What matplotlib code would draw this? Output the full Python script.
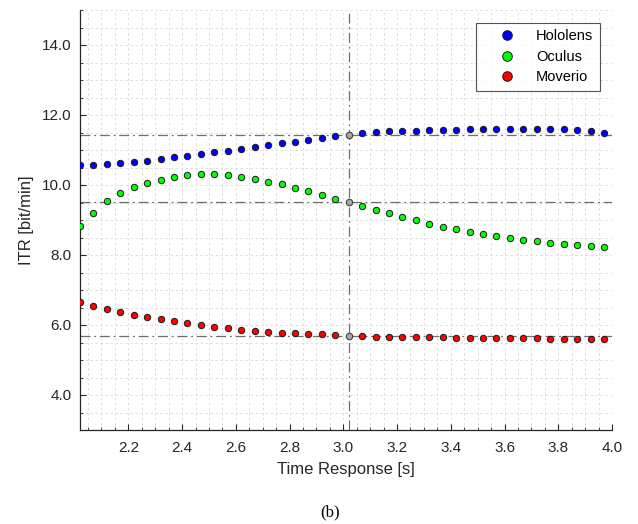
import numpy as np
import matplotlib.pyplot as plt
from matplotlib.ticker import MultipleLocator

plt.rcParams.update({
    "font.family": ["Liberation Sans", "DejaVu Sans"],
    "font.size": 11,
})

# ---- data ----
time_s = [2.02 + 0.05 * i for i in range(40)]

hololens = [10.57, 10.58, 10.60, 10.63, 10.66, 10.70, 10.74, 10.79, 10.83, 10.88,
            10.93, 10.98, 11.03, 11.09, 11.14, 11.19, 11.24, 11.29, 11.35, 11.39,
            11.43, 11.48, 11.51, 11.54, 11.54, 11.55, 11.56, 11.57, 11.58, 11.60,
            11.60, 11.61, 11.61, 11.61, 11.61, 11.61, 11.60, 11.57, 11.53, 11.48]

oculus = [8.84, 9.21, 9.53, 9.78, 9.94, 10.06, 10.15, 10.24, 10.29, 10.32,
          10.32, 10.29, 10.24, 10.17, 10.09, 10.02, 9.91, 9.82, 9.72, 9.61,
          9.51, 9.40, 9.30, 9.19, 9.09, 8.99, 8.90, 8.81, 8.74, 8.67,
          8.60, 8.53, 8.48, 8.43, 8.39, 8.35, 8.31, 8.28, 8.26, 8.24]

moverio = [6.65, 6.55, 6.47, 6.38, 6.30, 6.23, 6.16, 6.11, 6.05, 6.00,
           5.94, 5.91, 5.87, 5.84, 5.81, 5.78, 5.76, 5.74, 5.73, 5.71,
           5.69, 5.68, 5.67, 5.67, 5.66, 5.65, 5.65, 5.65, 5.64, 5.63,
           5.63, 5.63, 5.62, 5.62, 5.62, 5.61, 5.61, 5.60, 5.60, 5.59]

sel_idx = 20  # highlighted time response (3.02 s)

series = [("Hololens", hololens, "#0000ff"),
          ("Oculus", oculus, "#00ff00"),
          ("Moverio", moverio, "#ff0000")]

# ---- plot ----
fig = plt.figure(figsize=(6.38, 5.24), dpi=100)
ax = fig.add_axes([80 / 638, 94 / 524, 532 / 638, 420 / 524])

ax.set_xlim(2.02, 4.0)
ax.set_ylim(3, 15)

# reference lines at the selected point
t_sel = time_s[sel_idx]
dashdot = (0, (8, 3, 1.5, 3))
ax.axvline(t_sel, color="#6e6e6e", lw=0.9, ls=dashdot, zorder=2)
for _, vals, _ in series:
    ax.axhline(vals[sel_idx], color="#6e6e6e", lw=0.9, ls=dashdot, zorder=2)

for name, vals, col in series:
    t = [x for i, x in enumerate(time_s) if i != sel_idx]
    v = [y for i, y in enumerate(vals) if i != sel_idx]
    ax.plot(t, v, ls="none", marker="o", ms=4.6, mfc=col, mec="#1a1a1a",
            mew=0.7, zorder=3, label=name)
    ax.plot(t_sel, vals[sel_idx], ls="none", marker="o", ms=4.6, mfc="#a8a8a8",
            mec="#4d4d4d", mew=0.9, zorder=4)

# ticks and grid (MATLAB look)
ax.xaxis.set_minor_locator(MultipleLocator(0.05))
ax.yaxis.set_minor_locator(MultipleLocator(0.5))
ax.set_xticks(np.arange(2.2, 4.01, 0.2))
ax.set_yticks(np.arange(4, 14.01, 2))
ax.xaxis.set_major_formatter(plt.FormatStrFormatter("%.1f"))
ax.yaxis.set_major_formatter(plt.FormatStrFormatter("%.1f"))
ax.tick_params(which="both", direction="in", colors="#262626", labelcolor="#262626",
               labelsize=11)
ax.tick_params(which="major", length=4, width=0.8)
ax.tick_params(axis="x", which="major", pad=8)
ax.tick_params(axis="y", which="major", pad=6)
ax.tick_params(which="minor", length=2, width=0.6)

ax.grid(True, which="both", color="#d9d9d9", lw=0.6, ls=(0, (3, 3)), zorder=0)
ax.set_axisbelow(True)

for s in ["top", "right"]:
    ax.spines[s].set_visible(False)
for s in ["left", "bottom"]:
    ax.spines[s].set_color("#262626")
    ax.spines[s].set_linewidth(0.9)

ax.set_xlabel("Time Response [s]", fontsize=12, color="#262626", labelpad=5)
ax.set_ylabel("ITR [bit/min]", fontsize=12, color="#262626", labelpad=6)

leg = ax.legend(loc="upper right", bbox_to_anchor=(0.977, 0.970), borderaxespad=0,
                frameon=True, fancybox=False, fontsize=10.5, markerscale=1.5,
                handlelength=3.3, handletextpad=0.35, labelspacing=0.45,
                borderpad=0.45)
leg.get_frame().set_edgecolor("#262626")
leg.get_frame().set_linewidth(0.8)

fig.text(0.517, 1 - 512 / 524, "(b)", ha="center", va="center",
         family=["Liberation Serif", "DejaVu Serif"], fontsize=12)

fig.savefig("out.png", dpi=100)
